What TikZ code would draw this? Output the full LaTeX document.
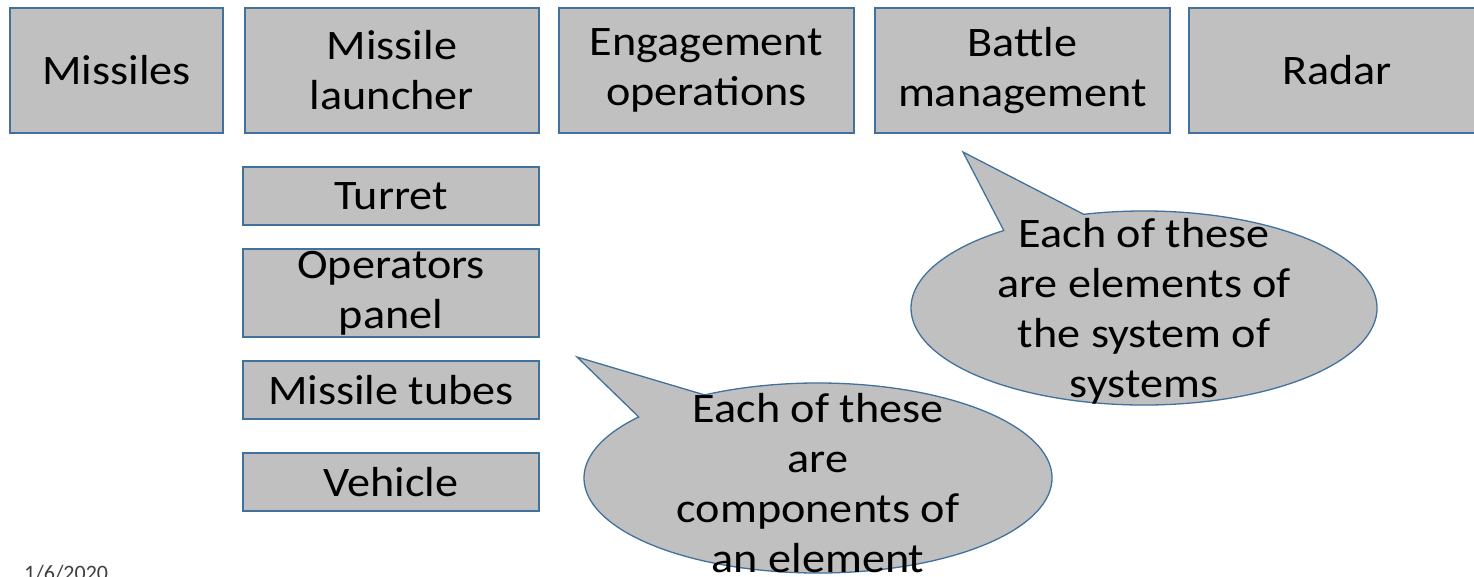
\documentclass[tikz,border=0pt]{standalone}
\usepackage{fontspec}
\setmainfont{Carlito}[FakeStretch=1.1]
\newfontfamily\datefont{Carlito}
\definecolor{boxfill}{HTML}{C0C0C0}
\definecolor{boxline}{HTML}{41719C}
\definecolor{datecol}{HTML}{404040}
\tikzset{
  box/.style={draw=boxline, fill=boxfill, line width=1.3pt, inner sep=0pt,
    align=center, font=\fontsize{42}{50}\selectfont},
  topbox/.style={box, minimum height=125pt},
  subbox/.style={box, minimum width=296pt},
  bubble/.style={draw=boxline, fill=boxfill, line width=1.3pt, line join=miter},
  bubbletext/.style={inner sep=0pt, align=center, font=\fontsize{42}{50}\selectfont}
}
\begin{document}
\begin{tikzpicture}[x=1pt,y=-1pt]
\useasboundingbox (0,0) rectangle (1474,576);
\fill[white] (0,0) rectangle (1474,576);

% top row of elements
\node[topbox, minimum width=213pt] (missiles) at (116.5,70.5) {Missiles};
\node[topbox, minimum width=294pt] (launcher) at (392,70.5) {Missile\\launcher};
\node[topbox, minimum width=295pt] (engage) at (706.5,70.5) {Engagement\\operations};
\node[topbox, minimum width=295pt] (battle) at (1022.5,70.5) {Battle\\management};
\node[topbox, minimum width=296pt] (radar) at (1337,70.5) {Radar};

% components of the launcher
\node[subbox, minimum height=58pt] (turret) at (391,196) {Turret};
\node[subbox, minimum height=88pt] (panel) at (391,293) {Operators\\panel};
\node[subbox, minimum height=58pt] (tubes) at (391,390) {Missile tubes};
\node[subbox, minimum height=58pt] (vehicle) at (391,482) {Vehicle};

% callout 1 (components)
\coordinate (c1) at (818,478);
\coordinate (tip1) at (577,357);
\draw[bubble] (tip1) -- ([shift={(-119:234 and 95)}]c1)
  arc[start angle=-119, end angle=220, x radius=234, y radius=95] -- cycle;
\node[bubbletext] (t1) at (818,483.5) {Each of these\\are\\components of\\an element};

% callout 2 (elements)
\coordinate (c2) at (1144,308);
\coordinate (tip2) at (963,152);
\draw[bubble] (tip2) -- ([shift={(-105:233 and 97)}]c2)
  arc[start angle=-105, end angle=233, x radius=233, y radius=97] -- cycle;
\node[bubbletext] (t2) at (1144,311) {Each of these\\are elements of\\the system of\\systems};

% date
\node[anchor=base west, inner sep=0pt, text=datecol, font=\datefont\fontsize{22}{26}\selectfont] (date) at (24,580) {1/6/2020};
\end{tikzpicture}
\end{document}
